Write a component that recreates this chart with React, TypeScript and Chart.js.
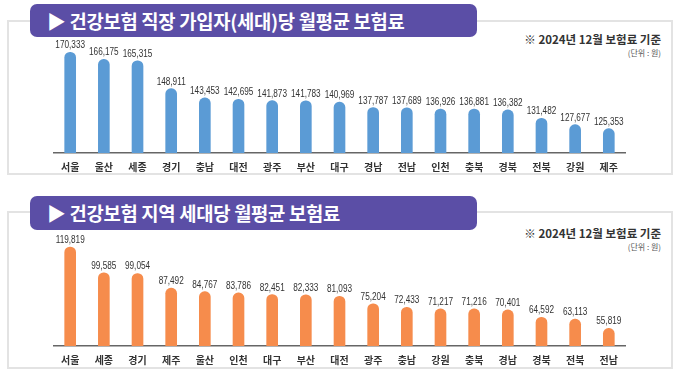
import React, { useEffect, useRef } from "react";
import { Chart, registerables } from "chart.js";

Chart.register(...registerables);

const workCategories = ["서울", "울산", "세종", "경기", "충남", "대전", "광주", "부산", "대구", "경남", "전남", "인천", "충북", "경북", "전북", "강원", "제주"];
const workValues = [170333, 166175, 165315, 148911, 143453, 142695, 141873, 141783, 140969, 137787, 137689, 136926, 136881, 136382, 131482, 127677, 125353];

const localCategories = ["서울", "세종", "경기", "제주", "울산", "인천", "대구", "부산", "대전", "광주", "충남", "강원", "충북", "경남", "경북", "전북", "전남"];
const localValues = [119819, 99585, 99054, 87492, 84767, 83786, 82451, 82333, 81093, 75204, 72433, 71217, 71216, 70401, 64592, 63113, 55819];

const workTitle = "▶ 건강보험 직장 가입자(세대)당 월평균 보험료";
const localTitle = "▶ 건강보험 지역 세대당 월평균 보험료";
const noteText = "※ 2024년 12월 보험료 기준";
const unitText = "(단위 : 원)";

const KR = '"Noto Sans CJK KR", "Noto Sans", sans-serif';

const valueLabelPlugin = {
  id: "valueLabels",
  afterDatasetsDraw(chart: any) {
    const ctx = chart.ctx;
    const meta = chart.getDatasetMeta(0);
    const data = chart.data.datasets[0].data as number[];
    ctx.save();
    ctx.font = '10px "Liberation Sans", Arial, sans-serif';
    ctx.fillStyle = "#333";
    ctx.textAlign = "center";
    ctx.textBaseline = "alphabetic";
    meta.data.forEach((el: any, i: number) => {
      ctx.save();
      ctx.translate(el.x, el.y - 4);
      ctx.scale(0.82, 1);
      ctx.fillText(data[i].toLocaleString("en-US"), 0, 0);
      ctx.restore();
    });
    ctx.restore();
  },
};

function BarChart(props: { labels: string[]; values: number[]; color: string; min: number; max: number; style: React.CSSProperties }) {
  const ref = useRef<HTMLCanvasElement>(null);
  useEffect(() => {
    if (!ref.current) return;
    const chart = new Chart(ref.current, {
      type: "bar",
      data: {
        labels: props.labels,
        datasets: [
          {
            data: props.values,
            backgroundColor: props.color,
            barThickness: 11,
            borderRadius: 6,
            borderSkipped: false,
          },
        ],
      },
      options: {
        animation: false,
        responsive: false,
        maintainAspectRatio: false,
        layout: { padding: 0 },
        plugins: { legend: { display: false }, tooltip: { enabled: false } },
        scales: {
          x: {
            grid: { display: false, drawTicks: false },
            border: { display: true, color: "#666", width: 1.5 },
            ticks: { color: "#333", padding: 8, font: { family: KR, size: 10, weight: 600 } },
          },
          y: { display: false, min: props.min, max: props.max },
        },
      },
      plugins: [valueLabelPlugin],
    });
    return () => chart.destroy();
  }, []);
  const w = props.style.width as number;
  const h = props.style.height as number;
  return <canvas ref={ref} width={w} height={h} style={{ position: "absolute", ...props.style }} />;
}

function Banner(props: { text: string; top: number; height: number }) {
  return (
    <div
      style={{
        position: "absolute",
        left: 30,
        top: props.top,
        width: 447,
        height: props.height,
        background: "#5b4ea6",
        borderRadius: 7,
        color: "#fff",
        fontFamily: KR,
        fontWeight: 700,
        fontSize: 18.8,
        lineHeight: props.height + "px",
        paddingLeft: 17,
        boxSizing: "border-box",
        letterSpacing: -0.3,
        whiteSpace: "nowrap",
      }}
    >
      {props.text}
    </div>
  );
}

function Note(props: { top: number }) {
  return (
    <>
      <div style={{ position: "absolute", right: 19, top: props.top, fontFamily: KR, fontWeight: 700, fontSize: 11.5, lineHeight: "14px", color: "#333", whiteSpace: "nowrap" }}>
        {noteText}
      </div>
      <div style={{ position: "absolute", right: 19, top: props.top + 16, fontFamily: KR, fontSize: 8, lineHeight: "10px", color: "#555", whiteSpace: "nowrap" }}>
        {unitText}
      </div>
    </>
  );
}

export default function App() {
  return (
    <div style={{ position: "absolute", left: 0, top: 0, width: 680, height: 376, background: "#fff", overflow: "hidden" }}>
      <div style={{ position: "absolute", left: 7, top: 20, width: 666, height: 155, border: "2px solid #e3e3e3", boxSizing: "border-box" }} />
      <div style={{ position: "absolute", left: 7, top: 211, width: 666, height: 158, border: "2px solid #e3e3e3", boxSizing: "border-box" }} />
      <Banner text={workTitle} top={4} height={33} />
      <Banner text={localTitle} top={196} height={34} />
      <Note top={32} />
      <Note top={226} />
      <BarChart labels={workCategories} values={workValues} color="#5b9bd5" min={111000} max={177600} style={{ left: 53, top: 40, width: 573, height: 141 }} />
      <BarChart labels={localCategories} values={localValues} color="#f68c4c" min={42000} max={129300} style={{ left: 53, top: 235, width: 573, height: 139 }} />
    </div>
  );
}
